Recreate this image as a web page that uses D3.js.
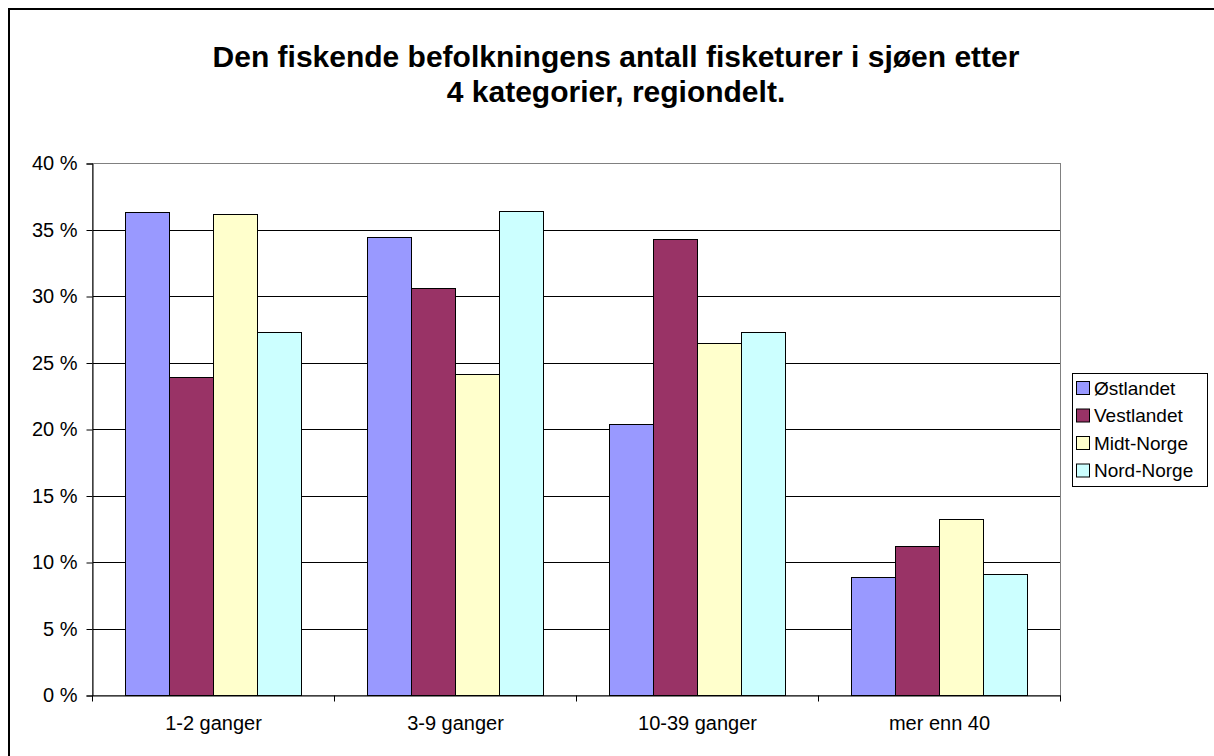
<!DOCTYPE html>
<html>
<head>
<meta charset="utf-8">
<script src="https://cdn.jsdelivr.net/npm/d3@7"></script>
<style>
	body { margin: 0; background: #fff; }
	svg { display: block; font-family: "Liberation Sans", Arial, sans-serif; }
</style>
</head>
<body>
<svg id="chart" width="1214" height="756"></svg>
<script>
const categories = ["1-2 ganger", "3-9 ganger", "10-39 ganger", "mer enn 40"];
const regions = ["Østlandet", "Vestlandet", "Midt-Norge", "Nord-Norge"];
const colors = ["#9999ff", "#993366", "#ffffcc", "#ccffff"];

// andel i prosent, én rad per region
const ostlandet = [36.3, 34.4, 20.4, 8.9];
const vestlandet = [23.9, 30.6, 34.3, 11.2];
const midtnorge = [36.2, 24.1, 26.5, 13.2];
const nordnorge = [27.3, 36.4, 27.3, 9.1];

const yticks = [0, 5, 10, 15, 20, 25, 30, 35, 40];

const series = [ostlandet, vestlandet, midtnorge, nordnorge];

const svg = d3.select('#chart');

const plot = { left: 92, right: 1060, top: 163, bottom: 695 };

// ramme rundt hele diagrammet
svg.append('rect')
	.attr('x', 9).attr('y', 9)
	.attr('width', 1220).attr('height', 760)
	.attr('fill', 'none')
	.attr('stroke', '#000')
	.attr('stroke-width', 2);

const title = svg.append('text')
	.attr('text-anchor', 'middle')
	.attr('font-weight', 'bold')
	.attr('font-size', 30);

title.append('tspan').attr('x', 616).attr('y', 67)
	.text("Den fiskende befolkningens antall fisketurer i sjøen etter");
title.append('tspan').attr('x', 616).attr('y', 102)
	.text("4 kategorier, regiondelt.");

const x = d3.scaleBand()
	.domain(categories)
	.range([plot.left, plot.right])
	.padding(0);

// gap width 150 % i Excel: 0.75 steg på hver side
const xs = d3.scaleBand()
	.domain(regions)
	.range([0, x.bandwidth()])
	.paddingInner(0)
	.paddingOuter(0.75);

const y = d3.scaleLinear()
	.domain([0, 40])
	.range([plot.bottom, plot.top]);

// rutenett
svg.append('g')
	.selectAll('line')
	.data(yticks.filter(d => d > 0 && d < 40))
	.enter().append('line')
	.attr('x1', plot.left).attr('x2', plot.right)
	.attr('y1', d => Math.round(y(d)) + 0.5)
	.attr('y2', d => Math.round(y(d)) + 0.5)
	.attr('stroke', '#000');

// ramme rundt plottet
svg.append('rect')
	.attr('x', plot.left + 0.5).attr('y', plot.top + 0.5)
	.attr('width', plot.right - plot.left)
	.attr('height', plot.bottom - plot.top)
	.attr('fill', 'none')
	.attr('stroke', '#808080');

const g = svg.append('g');

regions.forEach((r, i) => {
	g.selectAll(`rect.s${i}`)
		.data(series[i])
		.enter().append('rect')
		.attr('class', `s${i}`)
		.attr('x', (d, j) => Math.round(x(categories[j]) + xs(r)) + 0.5)
		.attr('y', d => Math.round(y(d)) + 0.5)
		.attr('width', Math.round(xs.bandwidth()))
		.attr('height', d => Math.round(y(0)) - Math.round(y(d)))
		.attr('fill', colors[i])
		.attr('stroke', '#000');
});

const yaxis = svg.append('g')
	.attr('transform', `translate(${plot.left + 0.5},0.5)`)
	.call(d3.axisLeft(y).tickValues(yticks).tickSize(6).tickFormat(d => `${d} %`));

const xaxis = svg.append('g')
	.attr('transform', `translate(0.5,${plot.bottom + 0.5})`)
	.call(d3.axisBottom(x).tickSize(0));

xaxis.selectAll('.tick text')
	.attr('y', 34)
	.attr('dy', null);

xaxis.selectAll('.tick')
	.append('line')
	.attr('x1', -x.bandwidth() / 2).attr('x2', -x.bandwidth() / 2)
	.attr('y1', 0).attr('y2', 6)
	.attr('stroke', '#000');

svg.append('line')
	.attr('x1', plot.right + 0.5).attr('x2', plot.right + 0.5)
	.attr('y1', plot.bottom + 0.5).attr('y2', plot.bottom + 6.5)
	.attr('stroke', '#000');

[yaxis, xaxis].forEach(a => {
	a.select('.domain').attr('stroke', '#000');
	a.selectAll('text')
		.attr('font-family', '"Liberation Sans", Arial, sans-serif')
		.attr('font-size', 20)
		.attr('fill', '#000');
});

yaxis.selectAll('text').attr('x', -15);

// forklaring
const legend = svg.append('g');

legend.append('rect')
	.attr('x', 1072.5).attr('y', 373.5)
	.attr('width', 135).attr('height', 113)
	.attr('fill', '#fff')
	.attr('stroke', '#000');

const item = legend.selectAll('g')
	.data(regions)
	.enter().append('g')
	.attr('transform', (d, i) => `translate(1076,${388 + i * 27.5})`);

item.append('rect')
	.attr('x', 0.5).attr('y', -6.5)
	.attr('width', 13).attr('height', 13)
	.attr('fill', (d, i) => colors[i])
	.attr('stroke', '#000');

item.append('text')
	.attr('x', 18).attr('y', 0)
	.attr('dy', '0.35em')
	.attr('font-size', 19)
	.text(d => d);
</script>
</body>
</html>
